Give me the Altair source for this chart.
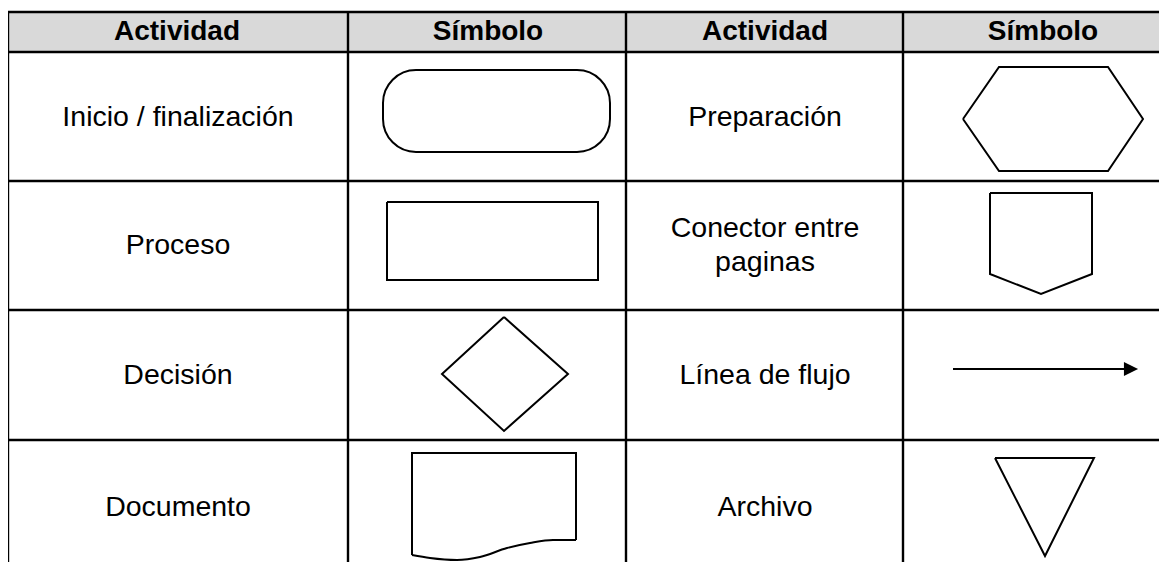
import altair as alt
import pandas as pd

# ---------------- table structure ----------------
HEADERS = ["Actividad", "Símbolo", "Actividad", "Símbolo"]
HEADER_X = [177, 488, 765, 1043]
HEADER_Y = [32, 32, 32, 32]

ACTIVITIES = ["Inicio / finalización", "Proceso", "Decisión", "Documento",
              "Preparación", "Conector entre\npaginas", "Línea de flujo", "Archivo"]
ACT_X = [178, 178, 178, 178, 765, 765, 765, 765]
ACT_Y = [117, 245, 375, 507, 117, 228, 375, 507]

H_LINES_Y = [12, 52, 181, 310, 440]
V_LINES_X = [8, 348, 626, 903]
TABLE_X = [8, 1159]
TABLE_Y = [12, 562]

# ---------------- symbol outlines ----------------
TERMINAL = {"x": 383, "x2": 610, "y": 70, "y2": 152}
PROCESS = {"x": [387, 598, 598, 387, 387], "y": [202, 202, 280, 280, 202]}
DECISION = {"x": [504, 568, 504, 442, 504], "y": [317, 374, 431, 374, 317]}
DOC_BODY = {"x": [412, 412, 576, 576], "y": [555, 453, 453, 540]}
DOC_WAVE = {"x": [412, 430, 457, 480, 507, 530, 553, 576],
            "y": [555, 558, 560, 557, 548, 543, 540, 540]}
PREPARATION = {"x": [963, 999, 1108, 1143, 1108, 999, 963],
               "y": [119, 67, 67, 119, 171, 171, 119]}
CONNECTOR = {"x": [990, 1092, 1092, 1041, 990, 990],
             "y": [193, 193, 274, 294, 274, 193]}
ARCHIVE = {"x": [995, 1094, 1045, 995], "y": [458, 458, 556, 458]}
FLOW_LINE = {"x": 953, "x2": 1126, "y": 369}
FLOW_HEAD = {"x": 1131, "y": 369}

W, H = 1151, 554
xs = alt.Scale(domain=[8, 8 + W])
ys = alt.Scale(domain=[8, 8 + H], reverse=True)
X = lambda f: alt.X(f, type="quantitative", scale=xs, axis=None)
Y = lambda f: alt.Y(f, type="quantitative", scale=ys, axis=None)

# header background
hdr_bg = alt.Chart(pd.DataFrame({"x": [TABLE_X[0]], "x2": [TABLE_X[1]],
                                 "y": [H_LINES_Y[0]], "y2": [H_LINES_Y[1]]})).mark_rect(
    color="#d9d9d9").encode(x=X("x"), x2="x2", y=Y("y"), y2="y2")

# grid lines
hl = pd.DataFrame({"y": H_LINES_Y, "x": TABLE_X[0], "x2": TABLE_X[1]})
vl = pd.DataFrame({"x": V_LINES_X, "y": TABLE_Y[0], "y2": TABLE_Y[1]})
hrules = alt.Chart(hl).mark_rule(color="black", strokeWidth=2.4).encode(
    x=X("x"), x2="x2", y=Y("y"))
vrules = alt.Chart(vl).mark_rule(color="black", strokeWidth=2.4).encode(
    x=X("x"), y=Y("y"), y2="y2")

# polylines
rows = []
for name, s in [("process", PROCESS), ("decision", DECISION), ("doc", DOC_BODY),
                ("prep", PREPARATION), ("conn", CONNECTOR), ("arch", ARCHIVE)]:
    for i, (a, b) in enumerate(zip(s["x"], s["y"])):
        rows.append({"shape": name, "i": i, "x": a, "y": b})
poly = alt.Chart(pd.DataFrame(rows)).mark_line(
    color="black", strokeWidth=2, strokeJoin="miter").encode(
    x=X("x"), y=Y("y"), detail="shape:N", order="i:Q")

wave = alt.Chart(pd.DataFrame(DOC_WAVE)).mark_line(
    color="black", strokeWidth=2, interpolate="monotone").encode(x=X("x"), y=Y("y"))

terminal = alt.Chart(pd.DataFrame([TERMINAL])).mark_rect(
    fill="white", stroke="black", strokeWidth=2, cornerRadius=33).encode(
    x=X("x"), x2="x2", y=Y("y"), y2="y2")

flow = alt.Chart(pd.DataFrame([FLOW_LINE])).mark_rule(color="black", strokeWidth=2).encode(
    x=X("x"), x2="x2", y=Y("y"))
head = alt.Chart(pd.DataFrame([FLOW_HEAD])).mark_point(
    shape="M -1 -1 L 1 0 L -1 1 Z", filled=True, color="black", size=200, opacity=1).encode(
    x=X("x"), y=Y("y"))

# texts
hdr_text = alt.Chart(pd.DataFrame({"t": HEADERS, "x": HEADER_X, "y": HEADER_Y})).mark_text(
    font="Liberation Sans", fontSize=28, fontWeight="bold", color="black",
    baseline="middle", align="center").encode(x=X("x"), y=Y("y"), text="t:N")
act_text = alt.Chart(pd.DataFrame({"t": ACTIVITIES, "x": ACT_X, "y": ACT_Y})).mark_text(
    font="Liberation Sans", fontSize=28.5, color="black", lineBreak="\n", lineHeight=34,
    baseline="middle", align="center").encode(x=X("x"), y=Y("y"), text="t:N")

chart = alt.layer(hdr_bg, hrules, vrules, poly, wave, terminal, flow, head,
                  hdr_text, act_text).properties(
    width=W, height=H, padding=0, autosize=alt.AutoSizeParams(type="none")
).configure_view(stroke=None)

chart.save("out.html", embed_options={"renderer": "svg", "actions": False})
